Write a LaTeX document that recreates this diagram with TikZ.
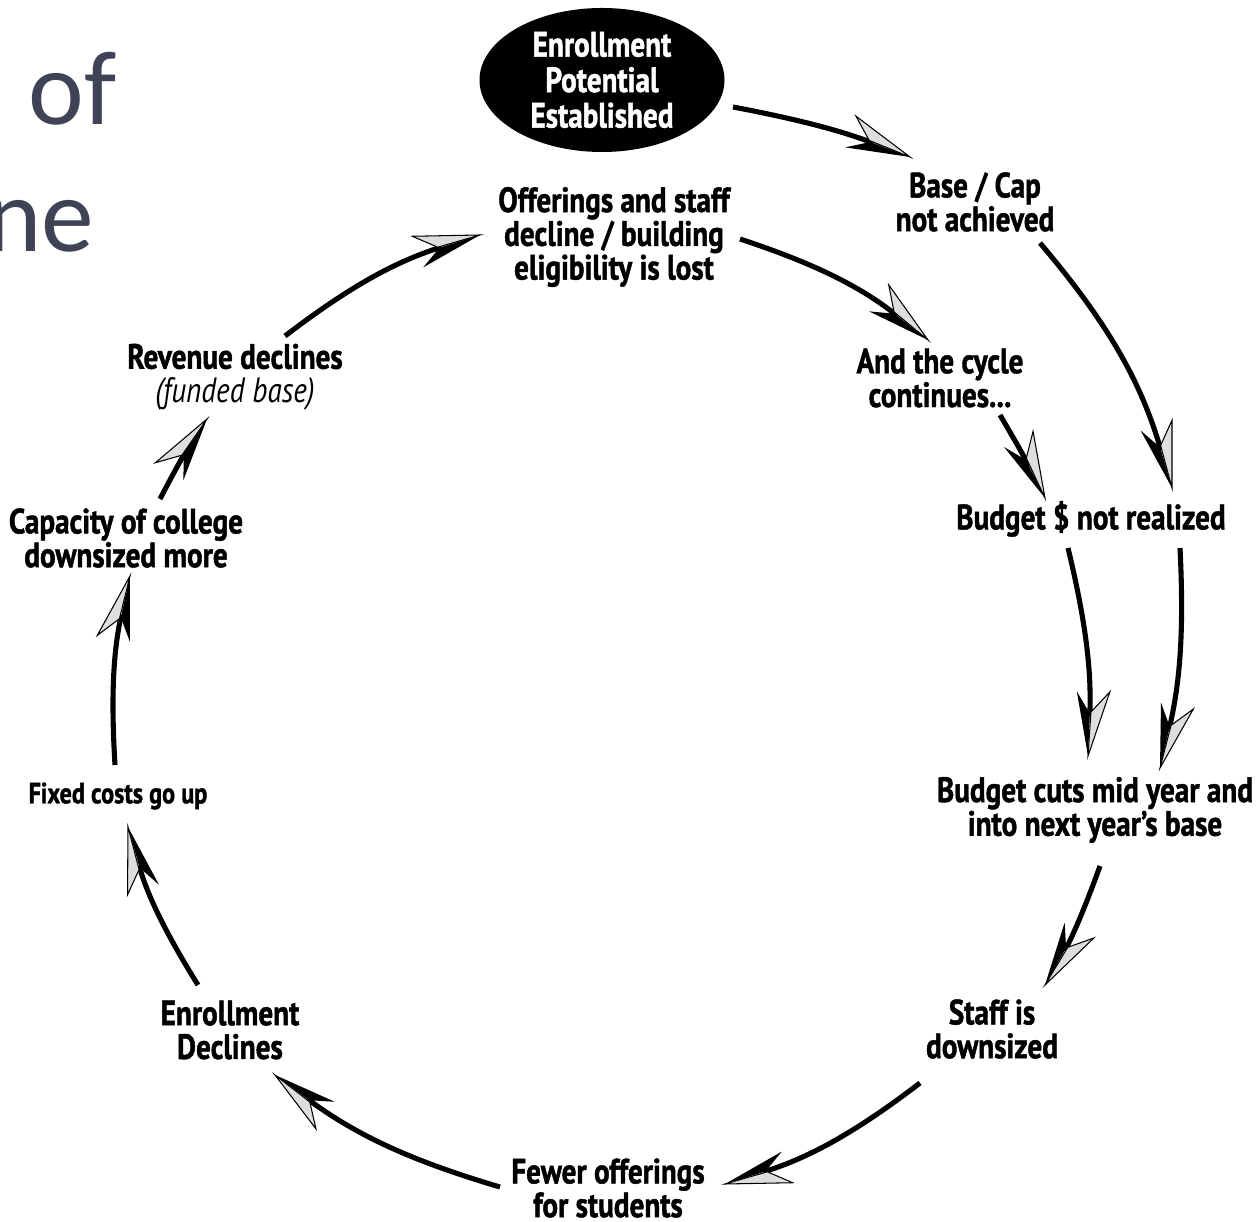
\documentclass[tikz,border=0pt]{standalone}
\usepackage{fontspec}
\usetikzlibrary{shapes.geometric,decorations.markings}
\newfontfamily\lblfont{PT Sans}[FakeStretch=0.83,BoldFeatures={FakeBold=1.3}]
\newfontfamily\slidefont{Carlito}
\definecolor{slidegray}{HTML}{404356}

\begin{document}
\begin{tikzpicture}[
  lbl/.style={align=center,inner sep=1pt,
    font=\lblfont\bfseries\fontsize{10}{9.6}\selectfont},
  cyc/.style={line width=1.45pt,shorten >=0.4cm,
    postaction={decorate,decoration={markings,mark=at position 1 with {
      \fill[shorten >=0pt] (0,0) -- (-0.64,-0.14) -- (-0.47,-0.03)
        -- (-0.44,0) -- cycle;
      \filldraw[shorten >=0pt,fill=black!13,line width=0.3pt]
        (0,0) -- (-0.65,0.19) -- (-0.44,0.01) -- cycle;}}}}]
  \useasboundingbox (0,0) rectangle (12.56,-12.22);
  % slide title, cut off at the left
  \node[anchor=base west,inner sep=0,font=\slidefont\fontsize{30}{30}\selectfont,
    text=slidegray] (titleA) at (0.28,-1.25) {of};
  \node[anchor=base east,inner sep=0,font=\slidefont\fontsize{30}{30}\selectfont,
    text=slidegray] (titleB) at (0.95,-2.52) {ne};
  % the cycle
  \node[ellipse,fill=black,text=white,minimum width=2.45cm,minimum height=1.44cm,
    inner sep=0,align=center,font=\lblfont\bfseries\fontsize{10}{10.1}\selectfont]
    (enroll) at (6.02,-0.80) {Enrollment\\Potential\\Established};
  \node[lbl] (base)   at (9.75,-2.02)  {Base / Cap\\not achieved};
  \node[lbl] (offer)  at (6.14,-2.37)  {Offerings and staff\\decline / building\\eligibility is lost};
  \node[lbl] (cont)   at (9.40,-3.78)  {And the cycle\\continues...};
  \node[lbl] (rev)    at (2.35,-3.77)  {Revenue declines\\{\mdseries\itshape (funded base)}};
  \node[lbl] (cap)    at (1.26,-5.38)  {Capacity of college\\downsized more};
  \node[lbl] (budget) at (10.91,-5.19) {Budget \$ not realized};
  \node[lbl,font=\lblfont\bfseries\fontsize{8.3}{9}\selectfont]
             (fixed)  at (1.18,-7.96)  {Fixed costs go up};
  \node[lbl] (cuts)   at (10.95,-8.10) {Budget cuts mid year and\\into next year’s base};
  \node[lbl] (staff)  at (9.92,-10.29) {Staff is\\downsized};
  \node[lbl] (decl)   at (2.30,-10.30) {Enrollment\\Declines};
  \node[lbl] (fewer)  at (6.08,-11.88) {Fewer offerings\\for students};
  % arrows round the circle
  \draw[cyc] ([shift={(1.31,-0.27)}]enroll.center) to[bend left=5]
    ([shift={(-0.65,0.45)}]base.center);
  \draw[cyc] ([shift={(0.65,-0.41)}]base.center) to[bend left=12]
    ([shift={(0.81,0.31)}]budget.center);
  \draw[cyc] ([shift={(-0.23,-0.29)}]budget.center) to[bend left=8]
    ([shift={(-0.07,0.54)}]cuts.center);
  \draw[cyc] ([shift={(0.89,-0.29)}]budget.center) to[bend left=8]
    ([shift={(0.65,0.42)}]cuts.center);
  \draw[cyc] ([shift={(0.05,-0.56)}]cuts.center) to[bend left=5]
    ([shift={(0.53,0.44)}]staff.center);
  \draw[cyc] ([shift={(-0.72,-0.54)}]staff.center) to[bend left=10]
    ([shift={(1.17,0.04)}]fewer.center);
  \draw[cyc] ([shift={(-1.08,0.01)}]fewer.center) to[bend left=10]
    ([shift={(0.45,-0.45)}]decl.center);
  \draw[cyc] ([shift={(-0.32,0.45)}]decl.center) to[bend left=8]
    ([shift={(0.10,-0.31)}]fixed.center);
  \draw[cyc] ([shift={(-0.03,0.31)}]fixed.center) to[bend left=8]
    ([shift={(0.04,-0.38)}]cap.center);
  \draw[cyc] ([shift={(0.34,0.39)}]cap.center) to[bend left=3]
    ([shift={(-0.28,-0.42)}]rev.center);
  \draw[cyc] ([shift={(0.50,0.41)}]rev.center) to[bend left=10]
    ([shift={(-1.34,0.02)}]offer.center);
  \draw[cyc] ([shift={(1.26,-0.02)}]offer.center) to[bend left=10]
    ([shift={(-0.12,0.38)}]cont.center);
  \draw[cyc] ([shift={(0.60,-0.37)}]cont.center) to[bend left=2]
    ([shift={(-0.46,0.21)}]budget.center);
\end{tikzpicture}
\end{document}
